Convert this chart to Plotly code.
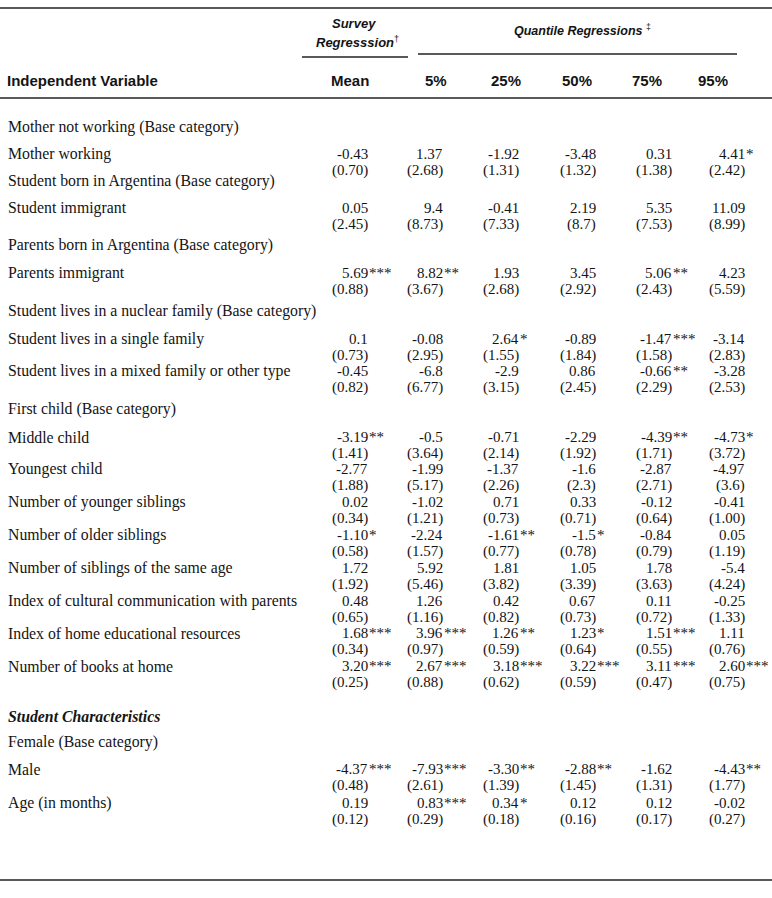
import plotly.graph_objects as go

# ---------------- data ----------------
labels = [
    "Mother not working (Base category)",
    "Mother working",
    "Student born in Argentina (Base category)",
    "Student immigrant",
    "Parents born in Argentina (Base category)",
    "Parents immigrant",
    "Student lives in a nuclear family (Base category)",
    "Student lives in a single family",
    "Student lives in a mixed family or other type",
    "First child (Base category)",
    "Middle child",
    "Youngest child",
    "Number of younger siblings",
    "Number of older siblings",
    "Number of siblings of the same age",
    "Index of cultural communication with parents",
    "Index of home educational resources",
    "Number of books at home",
    "Student Characteristics",
    "Female (Base category)",
    "Male",
    "Age (in months)",
]
row_kinds = ["base", "var", "base", "var", "base", "var", "base", "var", "var",
             "base", "var", "var", "var", "var", "var", "var", "var", "var",
             "section", "base", "var", "var"]

columns = ["Mean", "5%", "25%", "50%", "75%", "95%"]

mean_coef = ["-0.43", "0.05", "5.69***", "0.1", "-0.45", "-3.19**", "-2.77", "0.02",
             "-1.10*", "1.72", "0.48", "1.68***", "3.20***", "-4.37***", "0.19"]
mean_se = ["(0.70)", "(2.45)", "(0.88)", "(0.73)", "(0.82)", "(1.41)", "(1.88)", "(0.34)",
           "(0.58)", "(1.92)", "(0.65)", "(0.34)", "(0.25)", "(0.48)", "(0.12)"]
q05_coef = ["1.37", "9.4", "8.82**", "-0.08", "-6.8", "-0.5", "-1.99", "-1.02",
            "-2.24", "5.92", "1.26", "3.96***", "2.67***", "-7.93***", "0.83***"]
q05_se = ["(2.68)", "(8.73)", "(3.67)", "(2.95)", "(6.77)", "(3.64)", "(5.17)", "(1.21)",
          "(1.57)", "(5.46)", "(1.16)", "(0.97)", "(0.88)", "(2.61)", "(0.29)"]
q25_coef = ["-1.92", "-0.41", "1.93", "2.64*", "-2.9", "-0.71", "-1.37", "0.71",
            "-1.61**", "1.81", "0.42", "1.26**", "3.18***", "-3.30**", "0.34*"]
q25_se = ["(1.31)", "(7.33)", "(2.68)", "(1.55)", "(3.15)", "(2.14)", "(2.26)", "(0.73)",
          "(0.77)", "(3.82)", "(0.82)", "(0.59)", "(0.62)", "(1.39)", "(0.18)"]
q50_coef = ["-3.48", "2.19", "3.45", "-0.89", "0.86", "-2.29", "-1.6", "0.33",
            "-1.5*", "1.05", "0.67", "1.23*", "3.22***", "-2.88**", "0.12"]
q50_se = ["(1.32)", "(8.7)", "(2.92)", "(1.84)", "(2.45)", "(1.92)", "(2.3)", "(0.71)",
          "(0.78)", "(3.39)", "(0.73)", "(0.64)", "(0.59)", "(1.45)", "(0.16)"]
q75_coef = ["0.31", "5.35", "5.06**", "-1.47***", "-0.66**", "-4.39**", "-2.87", "-0.12",
            "-0.84", "1.78", "0.11", "1.51***", "3.11***", "-1.62", "0.12"]
q75_se = ["(1.38)", "(7.53)", "(2.43)", "(1.58)", "(2.29)", "(1.71)", "(2.71)", "(0.64)",
          "(0.79)", "(3.63)", "(0.72)", "(0.55)", "(0.47)", "(1.31)", "(0.17)"]
q95_coef = ["4.41*", "11.09", "4.23", "-3.14", "-3.28", "-4.73*", "-4.97", "-0.41",
            "0.05", "-5.4", "-0.25", "1.11", "2.60***", "-4.43**", "-0.02"]
q95_se = ["(2.42)", "(8.99)", "(5.59)", "(2.83)", "(2.53)", "(3.72)", "(3.6)", "(1.00)",
          "(1.19)", "(4.24)", "(1.33)", "(0.76)", "(0.75)", "(1.77)", "(0.27)"]

coefs = [mean_coef, q05_coef, q25_coef, q50_coef, q75_coef, q95_coef]
ses = [mean_se, q05_se, q25_se, q50_se, q75_se, q95_se]

# ---------------- layout (pixel-like axis units) ----------------
W, H = 772, 898
col_right = [369, 444, 520, 597, 673, 746]      # right edge of numbers
col_head = [350, 436, 506, 577, 647, 713]        # header centres
first_row_y = 127
row_gaps = [27, 27, 27, 37, 28, 38, 28, 32, 38, 28, 32, 33, 33, 33, 33, 32, 33, 50, 26, 27, 34]
se_offset = 16
label_x = 7

ink = "#141414"
serif = "Liberation Serif, Times New Roman, serif"
sans = "Liberation Sans, Arial, sans-serif"

row_y = [first_row_y]
for g in row_gaps:
    row_y.append(row_y[-1] + g)

fig = go.Figure()
fig.add_trace(go.Scatter(x=[0, W], y=[0, H], mode="markers",
                         marker=dict(opacity=0, size=1), hoverinfo="skip", showlegend=False))

ann = []

def add(x, y, text, anchor="left", font=serif, size=15, bold=False, italic=False):
    t = text
    if italic:
        t = "<i>" + t + "</i>"
    if bold:
        t = "<b>" + t + "</b>"
    ann.append(dict(x=x, y=y, xref="x", yref="y", text=t, showarrow=False,
                    xanchor=anchor, yanchor="middle", borderpad=0,
                    font=dict(family=font, size=size, color=ink)))

# header
add(6, 80, "Independent Variable", font=sans, size=15, bold=True)
for cx, name in zip(col_head, columns):
    add(cx, 80, name, anchor="center", font=sans, size=15, bold=True)
add(354, 23, "Survey", anchor="center", font=sans, size=13, bold=True, italic=True)
add(357, 42, "<b><i>Regresssion</i></b><sup>†</sup>", anchor="center", font=sans, size=13)
add(582, 30, "<b><i>Quantile Regressions</i></b> <sup>‡</sup>", anchor="center", font=sans, size=12.5)

# body
vi = 0
for lab, kind, y in zip(labels, row_kinds, row_y):
    if kind == "section":
        add(label_x, y, lab, size=15.8, bold=True, italic=True)
        continue
    add(label_x, y, lab, size=15.8)
    if kind == "var":
        for c in range(len(columns)):
            txt = coefs[c][vi]
            num = txt.rstrip("*")
            stars = txt[len(num):]
            add(col_right[c], y, num, anchor="right")
            if stars:
                add(col_right[c] - 1, y, stars, anchor="left")
            add(col_right[c], y + se_offset, ses[c][vi], anchor="right")
        vi += 1

line = dict(color="#222", width=1.5)
shapes = [
    dict(type="line", xref="x", yref="y", x0=0, x1=W, y0=8, y1=8, line=line),
    dict(type="line", xref="x", yref="y", x0=302, x1=408, y0=57, y1=57, line=line),
    dict(type="line", xref="x", yref="y", x0=418, x1=737, y0=54, y1=54, line=line),
    dict(type="line", xref="x", yref="y", x0=0, x1=W, y0=98, y1=98, line=line),
    dict(type="line", xref="x", yref="y", x0=0, x1=W, y0=880, y1=880, line=line),
]

fig.update_layout(
    width=W, height=H,
    margin=dict(l=0, r=0, t=0, b=0),
    paper_bgcolor="white", plot_bgcolor="white",
    xaxis=dict(range=[0, W], visible=False, fixedrange=True),
    yaxis=dict(range=[H, 0], visible=False, fixedrange=True),
    annotations=ann, shapes=shapes, showlegend=False,
)

fig.write_html(
    "out.html",
    config={"displayModeBar": False},
    post_script="document.body.style.margin='0';document.body.style.padding='0';",
)
